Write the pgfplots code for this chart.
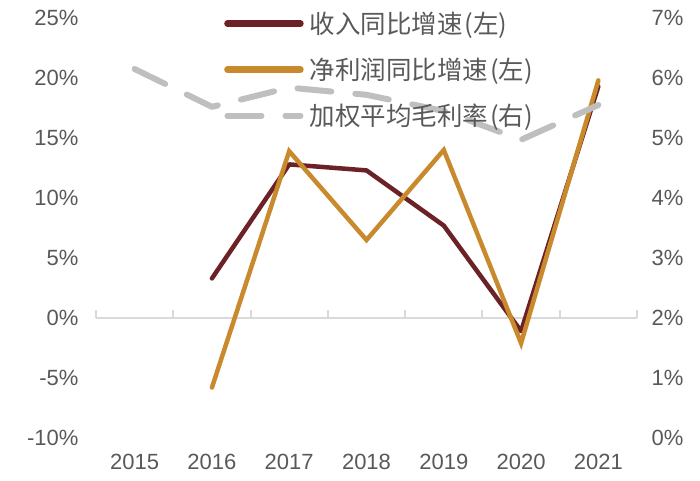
\documentclass[border=0pt]{standalone}
\usepackage{pgfplots}
\pgfplotsset{compat=1.18}
\usepackage{fontspec}
\setmainfont{Liberation Sans}
\newfontfamily\cjk{Noto Sans CJK SC}
\definecolor{maroon}{HTML}{6B2226}
\definecolor{gold}{HTML}{C98A2E}
\definecolor{lgray}{HTML}{BFBFBF}
\definecolor{txt}{HTML}{595959}
\definecolor{axgray}{HTML}{D9D9D9}
\begin{document}
\begin{tikzpicture}[x=1pt,y=1pt]
\useasboundingbox (-96,-42) rectangle (604,438);
\begin{axis}[
  at={(0,0)}, anchor=south west,
  scale only axis, width=541pt, height=420pt,
  xmin=-0.5, xmax=6.5, ymin=-10, ymax=25,
  axis y line*=left, axis x line*=bottom,
  y axis line style={draw=none}, x axis line style={draw=none},
  xtick={0,1,2,3,4,5,6},
  xticklabels={2015,2016,2017,2018,2019,2020,2021},
  ytick={-10,-5,0,5,10,15,20,25},
  major tick length=0pt,
  /pgf/number format/assume math mode=true,
  yticklabel={\pgfmathprintnumber{\tick}\%},
  tick label style={font=\fontsize{22}{26}\selectfont, text=txt},
  yticklabel style={xshift=-14pt},
  xticklabel style={yshift=-13pt},
  clip=false,
]
\draw[axgray, line width=2.5pt] (axis cs:-0.5,0) -- (axis cs:6.5,0);
\pgfplotsinvokeforeach{-0.5,0.5,1.5,2.5,3.5,4.5,5.5,6.5}{
  \draw[axgray, line width=2pt] (axis cs:#1,0) -- ++(0pt,8pt);
}
\addplot[maroon, line width=4.5pt, line join=round, line cap=round] coordinates {
  (1,3.3) (2,12.8) (3,12.3) (4,7.7) (5,-1.1) (6,19.3)
};
\addplot[gold, line width=4.5pt, line join=miter, line cap=round] coordinates {
  (1,-5.8) (2,13.9) (3,6.5) (4,14.0) (5,-2.1) (6,19.8)
};
\end{axis}
\begin{axis}[
  at={(0,0)}, anchor=south west,
  scale only axis, width=541pt, height=420pt,
  xmin=-0.5, xmax=6.5, ymin=0, ymax=7,
  axis y line*=right, axis x line=none,
  y axis line style={draw=none},
  ytick={0,1,2,3,4,5,6,7},
  major tick length=0pt,
  /pgf/number format/assume math mode=true,
  yticklabel={\pgfmathprintnumber{\tick}\%},
  tick label style={font=\fontsize{22}{26}\selectfont, text=txt},
  yticklabel style={xshift=11pt},
  clip=false,
  legend image code/.code={\draw[#1] (0pt,0pt) -- (73pt,0pt);},
  legend cell align=left,
  legend style={draw=none, fill=none, inner sep=0pt,
    at={(axis description cs:0.2366,1.0145)}, anchor=north west,
    row sep=23pt, column sep=6pt, nodes={inner sep=0pt},
    font=\cjk\fontsize{25.5}{30}\selectfont, text=txt},
]
\addlegendimage{maroon, line width=6.5pt, line cap=round}
\addlegendentry{收入同比增速\kern2pt(左)}
\addlegendimage{gold, line width=6.5pt, line cap=round}
\addlegendentry{净利润同比增速\kern2pt(左)}
\addplot[lgray, line width=6pt, dash pattern=on 34pt off 24pt, line cap=round, line join=round] coordinates {
  (0,6.15) (1,5.52) (2,5.84) (3,5.72) (4,5.45) (5,4.97) (6,5.55)
};
\addlegendentry{加权平均毛利率\kern2pt(右)}
\end{axis}
\end{tikzpicture}
\end{document}
